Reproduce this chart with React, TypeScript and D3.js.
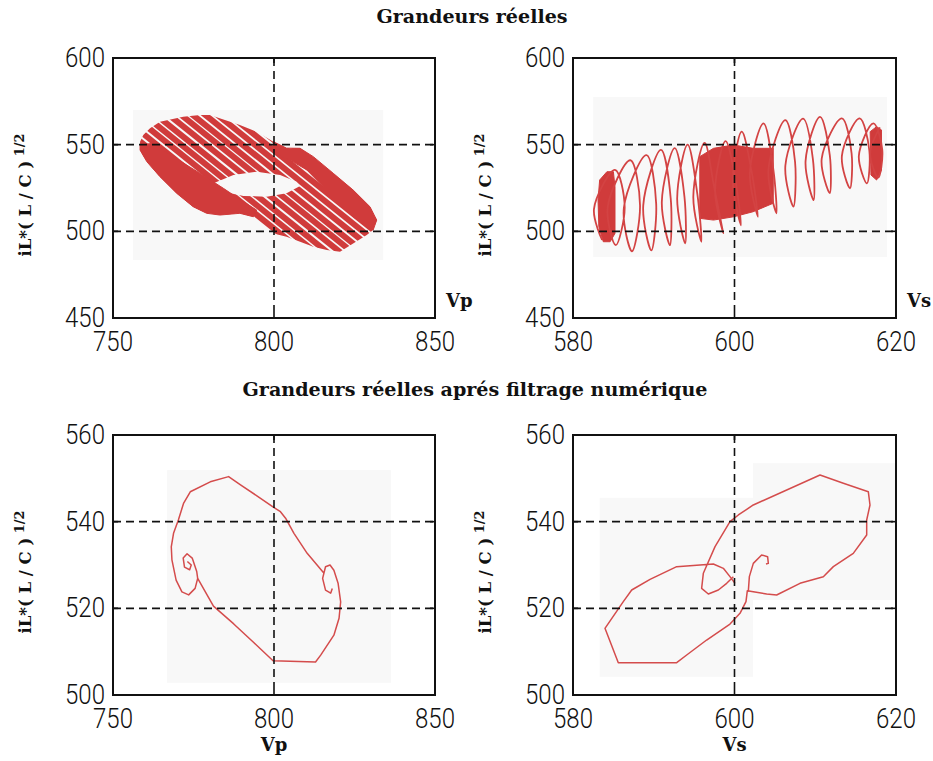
import React from "react";
import * as d3 from "d3";

type Pt = [number, number];

// ---------- tick values ----------
const vpTicks = [750, 800, 850];
const vsTicks = [580, 600, 620];
const ilTicksRaw = [450, 500, 550, 600];
const ilTicksFiltered = [500, 520, 540, 560];

// ---------- raw quantities : Vp versus iL*(L/C)^1/2 ----------
// envelope swept by the successive hysteresis loops
const vpBandOutline: Pt[] = [
  [758.4, 551.7], [759.4, 555.6], [761.5, 559.4], [764.6, 563.2], [771.8, 566.1],
  [777.0, 567.1], [780.1, 567.1], [789.4, 561.3], [794.6, 557.5], [799.8, 551.7],
  [803.9, 548.0], [808.1, 547.9], [812.2, 543.1], [818.4, 533.5], [824.6, 523.8],
  [829.8, 514.2], [831.9, 506.5], [830.8, 500.8], [828.8, 497.9], [820.5, 488.2],
  [816.4, 489.2], [812.2, 491.1], [808.1, 494.0], [803.9, 496.9], [799.8, 498.8],
  [796.7, 503.6], [793.6, 508.4], [789.4, 510.4], [783.2, 509.4], [779.1, 510.4],
  [774.9, 514.2], [769.8, 521.9], [764.6, 531.5], [760.5, 540.2], [758.4, 546.9],
];
// region never visited by the loops
const vpBandHole: Pt[] = [
  [781.2, 527.7], [787.4, 532.5], [794.6, 534.4], [801.9, 532.5], [807.0, 528.6],
  [808.1, 526.1], [803.9, 521.9], [797.7, 520.0], [790.5, 520.4], [784.3, 522.9],
];
// where the loops pile up into a solid area
const vpSolidLower: Pt[] = [
  [758.4, 549.8], [762.5, 550.8], [768.7, 543.1], [777.0, 533.5], [784.3, 524.8],
  [790.5, 517.1], [794.6, 512.3], [793.6, 508.4], [789.4, 510.4], [783.2, 509.4],
  [779.1, 510.4], [774.9, 514.2], [769.8, 521.9], [764.6, 531.5], [760.5, 540.2],
  [758.4, 546.9],
];
const vpSolidUpper: Pt[] = [
  [799.8, 551.7], [803.9, 548.0], [808.1, 547.9], [812.2, 543.1], [818.4, 533.5],
  [824.6, 523.8], [829.8, 514.2], [831.9, 506.5], [830.8, 500.8], [828.8, 502.7],
  [824.6, 508.4], [820.5, 516.2], [815.3, 525.7], [810.2, 535.4], [805.0, 541.1],
  [799.8, 545.0],
];
// axis of each elongated loop: Vp where it crosses iL = 575 and iL = 480
const LOOP_TOP_IL = 575;
const LOOP_BOTTOM_IL = 480;
const vpLoopTopVp = [735.0, 739.2, 742.9, 746.8, 750.7, 754.4, 758.1, 762.1, 765.9, 769.5, 773.4, 777.2, 781.0, 785.0, 788.8];
const vpLoopBottomVp = [798.8, 803.0, 806.7, 810.6, 814.5, 818.2, 821.9, 825.9, 829.7, 833.3, 837.2, 841.0, 844.8, 848.8, 852.6];

// ---------- raw quantities : Vs versus iL*(L/C)^1/2 ----------
// trajectory: trough, left flank, crest, right flank of each turn
const vsCoil: Pt[] = [
  [583.6, 495.0], [582.6, 513.0], [585.2, 535.5], [586.4, 514.0],
  [585.3, 492.0], [584.3, 514.0], [587.1, 541.0], [588.3, 515.0],
  [587.3, 488.5], [586.3, 513.5], [589.1, 544.0], [590.3, 516.0],
  [589.7, 489.0], [588.7, 515.0], [590.9, 547.0], [592.1, 519.0],
  [592.0, 492.0], [591.0, 517.0], [592.6, 548.0], [593.8, 520.0],
  [593.9, 493.0], [592.9, 519.0], [594.2, 550.0], [595.4, 521.5],
  [595.9, 494.0], [594.9, 520.0], [596.3, 551.0], [597.5, 525.0],
  [598.6, 499.0], [597.6, 523.5], [598.9, 552.0], [600.1, 530.0],
  [600.8, 503.5], [599.8, 528.5], [600.9, 557.5], [602.1, 535.0],
  [602.9, 508.4], [601.9, 533.5], [603.6, 562.3], [604.8, 536.0],
  [605.2, 510.4], [604.2, 535.5], [606.3, 564.2], [607.5, 540.0],
  [607.3, 514.2], [606.3, 538.0], [608.5, 565.0], [609.7, 542.0],
  [609.8, 518.0], [608.8, 540.5], [610.6, 566.0], [611.8, 544.0],
  [611.8, 522.0], [610.8, 542.0], [613.3, 565.2], [614.5, 545.0],
  [614.3, 524.8], [613.3, 543.5], [615.5, 565.2], [616.7, 546.5],
  [616.4, 527.7], [615.4, 543.5], [617.2, 562.3], [618.3, 547.0],
  [617.8, 531.0], [616.8, 545.0], [618.0, 560.0],
];
const vsSolidLeft: Pt[] = [
  [583.3, 529.6], [584.2, 534.4], [585.0, 534.4], [585.2, 525.7], [585.2, 498.8],
  [584.6, 494.0], [583.75, 494.0], [583.2, 502.7], [583.1, 518.1],
];
const vsSolidMid: Pt[] = [
  [595.7, 543.1], [597.4, 547.9], [599.9, 549.8], [602.3, 547.9], [604.8, 547.9],
  [604.8, 516.2], [602.3, 511.3], [599.9, 508.4], [597.4, 506.5], [595.7, 507.5],
];
const vsSolidRight: Pt[] = [
  [616.8, 557.5], [617.6, 560.4], [618.2, 558.5], [618.2, 535.4], [617.6, 529.6],
  [616.9, 532.5],
];

// ---------- after digital filtering : Vp ----------
const vpFiltered: Pt[] = [
  [815.4, 528.2], [810.3, 532.7], [806.2, 537.3], [803.6, 540.8], [802.0, 542.3],
  [799.9, 543.3], [794.8, 545.9], [789.6, 548.5], [785.9, 550.4], [780.2, 549.2],
  [774.0, 546.9], [771.9, 544.2], [770.3, 540.4], [768.8, 537.3], [768.1, 534.2],
  [768.3, 531.2], [769.6, 526.5], [771.4, 523.8], [773.5, 523.1], [775.5, 524.6],
  [776.3, 526.9], [781.2, 520.5], [787.5, 516.4], [793.7, 512.1], [799.7, 507.9],
  [812.9, 507.6], [814.5, 509.2], [818.6, 513.8], [820.2, 517.7], [820.7, 521.5],
  [819.9, 525.8], [818.6, 528.8], [817.4, 530.0], [816.0, 529.6], [815.1, 526.9],
  [816.0, 524.2], [817.6, 523.5], [818.1, 524.6],
];
const vpFilteredCurl: Pt[] = [
  [773.1, 530.8], [774.3, 530.0], [773.8, 528.9], [772.2, 529.5], [771.8, 531.6],
  [773.0, 532.6], [774.6, 531.6], [776.0, 528.5], [776.3, 526.9],
];

// ---------- after digital filtering : Vs ----------
const vsFiltered: Pt[] = [
  [600.06, 525.77], [599.44, 527.31], [598.62, 529.23], [597.38, 530.23], [592.84, 529.62],
  [589.54, 526.69], [587.27, 524.23], [586.23, 521.54], [583.96, 515.38], [585.61, 507.46],
  [592.84, 507.46], [594.08, 509.23], [596.55, 512.69], [599.44, 516.38], [600.68, 518.85],
  [601.42, 521.54], [601.59, 524.08], [602.33, 523.85], [603.98, 523.31], [605.22, 523.08],
  [608.11, 525.77], [611.0, 527.31], [612.24, 529.62], [614.71, 532.69], [616.37, 536.92],
  [616.37, 540.38], [616.78, 543.85], [616.57, 546.92], [613.48, 548.85], [610.59, 550.77],
  [602.33, 543.85], [600.48, 541.54], [599.44, 540.0], [597.59, 534.23], [596.14, 528.08],
  [595.93, 524.62], [596.76, 523.31], [598.0, 524.23], [599.03, 525.77], [599.86, 527.31],
];
const vsFilteredCurl: Pt[] = [
  [601.71, 523.85], [601.84, 527.31], [602.33, 530.38], [603.36, 532.31], [604.1, 531.92],
  [604.19, 530.38], [603.9, 530.23],
];

// ---------- layout ----------
type Frame = { l: number; t: number; r: number; b: number };
const FRAME_TL: Frame = { l: 113, t: 58, r: 435, b: 318 };
const FRAME_TR: Frame = { l: 573, t: 58, r: 896, b: 318 };
const FRAME_BL: Frame = { l: 113, t: 435, r: 435, b: 695 };
const FRAME_BR: Frame = { l: 573, t: 435, r: 896, b: 695 };

const RED = "#d03b3b";
const RED_LINE = "#d34343";
const RED_THIN = "#d44c4c";
const INK = "#111";
const HAZE = "#f8f8f8";
const TICK_FONT = "Roboto, 'Liberation Sans', Arial, sans-serif";
const LABEL_FONT = "'DejaVu Serif', 'Liberation Serif', serif";

type Scale = d3.ScaleLinear<number, number>;

type PanelProps = {
  id: string;
  f: Frame;
  xDomain: [number, number];
  yDomain: [number, number];
  xTicks: number[];
  yTicks: number[];
  xLabel: string;
  xLabelBelow: boolean;
  haze: [number, number, number, number][];
  draw: (x: Scale, y: Scale) => React.ReactNode;
};

function Panel({ id, f, xDomain, yDomain, xTicks, yTicks, xLabel, xLabelBelow, haze, draw }: PanelProps) {
  const x = d3.scaleLinear().domain(xDomain).range([f.l, f.r]);
  const y = d3.scaleLinear().domain(yDomain).range([f.b, f.t]);
  const inner = (v: number, d: [number, number]) => v > d[0] && v < d[1];
  const cy = (f.t + f.b) / 2 + 7;
  const labelX = f.l - 82;
  return (
    <g>
      <defs>
        <clipPath id={`frame-${id}`}>
          <rect x={f.l} y={f.t} width={f.r - f.l} height={f.b - f.t} />
        </clipPath>
      </defs>
      <g clipPath={`url(#frame-${id})`}>
        {haze.map(([x0, x1, y0, y1], i) => (
          <rect key={i} x={x(x0)} y={y(y1)} width={x(x1) - x(x0)} height={y(y0) - y(y1)} fill={HAZE} />
        ))}
        {draw(x, y)}
      </g>
      {/* dashed grid */}
      {xTicks.filter((v) => inner(v, xDomain)).map((v) => (
        <line key={`gx${v}`} x1={x(v)} x2={x(v)} y1={f.t} y2={f.b} stroke={INK} strokeWidth={1.6} strokeDasharray="8 5" />
      ))}
      {yTicks.filter((v) => inner(v, yDomain)).map((v) => (
        <line key={`gy${v}`} x1={f.l} x2={f.r} y1={y(v)} y2={y(v)} stroke={INK} strokeWidth={1.6} strokeDasharray="8 5" />
      ))}
      {/* inward ticks */}
      {xTicks.map((v) => (
        <g key={`tx${v}`}>
          <line x1={x(v)} x2={x(v)} y1={f.b} y2={f.b - 5} stroke={INK} strokeWidth={1.6} />
          <line x1={x(v)} x2={x(v)} y1={f.t} y2={f.t + 5} stroke={INK} strokeWidth={1.6} />
        </g>
      ))}
      {yTicks.map((v) => (
        <g key={`ty${v}`}>
          <line x1={f.l} x2={f.l + 5} y1={y(v)} y2={y(v)} stroke={INK} strokeWidth={1.6} />
          <line x1={f.r} x2={f.r - 5} y1={y(v)} y2={y(v)} stroke={INK} strokeWidth={1.6} />
        </g>
      ))}
      <rect x={f.l} y={f.t} width={f.r - f.l} height={f.b - f.t} fill="none" stroke={INK} strokeWidth={2} />
      {/* tick labels */}
      {xTicks.map((v) => (
        <text key={`lx${v}`} x={x(v)} y={f.b + 33} textAnchor="middle" fontFamily={TICK_FONT} fontWeight={300}
          fontSize={27} textLength={40} lengthAdjust="spacingAndGlyphs" fill={INK}>{v}</text>
      ))}
      {yTicks.map((v) => (
        <text key={`ly${v}`} x={f.l - 8} y={y(v) + 9} textAnchor="end" fontFamily={TICK_FONT} fontWeight={300}
          fontSize={27} textLength={40} lengthAdjust="spacingAndGlyphs" fill={INK}>{v}</text>
      ))}
      {/* axis titles */}
      {xLabelBelow ? (
        <text x={(f.l + f.r) / 2} y={f.b + 56} textAnchor="middle" fontFamily={LABEL_FONT} fontWeight="bold" fontSize={18} fill={INK}>{xLabel}</text>
      ) : (
        <text x={f.r + 11} y={f.b - 11} fontFamily={LABEL_FONT} fontWeight="bold" fontSize={18} fill={INK}>{xLabel}</text>
      )}
      <text transform={`translate(${labelX},${cy}) rotate(-90)`} textAnchor="middle" fontFamily={LABEL_FONT} fontWeight="bold" fontSize={16.5} fill={INK}>
        <tspan>iL*( L / C )</tspan>
        <tspan dy={-7} fontSize={13}> 1/2</tspan>
      </text>
    </g>
  );
}

const poly = (x: Scale, y: Scale, pts: Pt[]) => {
  const g = d3.line<Pt>().x((d) => x(d[0])).y((d) => y(d[1]));
  return g(pts) + "Z";
};

export default function App() {
  const straight = (x: Scale, y: Scale) => d3.line<Pt>().x((d) => x(d[0])).y((d) => y(d[1]));
  const smooth = (x: Scale, y: Scale) =>
    d3.line<Pt>().x((d) => x(d[0])).y((d) => y(d[1])).curve(d3.curveCatmullRom.alpha(0.5));

  return (
    <svg width={933} height={761} style={{ position: "absolute", left: 0, top: 0, background: "#fff" }}>
      <rect width={933} height={761} fill="#fff" />
      <text x={472} y={23} textAnchor="middle" fontFamily={LABEL_FONT} fontWeight="bold" fontSize={18}
        textLength={191} lengthAdjust="spacingAndGlyphs" fill={INK}>Grandeurs réelles</text>
      <text x={475} y={396} textAnchor="middle" fontFamily={LABEL_FONT} fontWeight="bold" fontSize={18}
        textLength={465} lengthAdjust="spacingAndGlyphs" fill={INK}>Grandeurs réelles aprés filtrage numérique</text>

      <Panel
        id="tl" f={FRAME_TL} xDomain={[750, 850]} yDomain={[450, 600]}
        xTicks={vpTicks} yTicks={ilTicksRaw} xLabel="Vp" xLabelBelow={false}
        haze={[[756.2, 833.9, 483.4, 570]]}
        draw={(x, y) => (
          <g>
            <defs>
              <clipPath id="vp-band">
                <path d={poly(x, y, vpBandOutline) + poly(x, y, vpBandHole)} clipRule="evenodd" />
              </clipPath>
            </defs>
            <g clipPath="url(#vp-band)">
              {vpLoopTopVp.map((v, i) => (
                <line key={i} x1={x(v)} y1={y(LOOP_TOP_IL)} x2={x(vpLoopBottomVp[i])} y2={y(LOOP_BOTTOM_IL)}
                  stroke={RED} strokeWidth={6} />
              ))}
            </g>
            <path d={poly(x, y, vpSolidLower)} fill={RED} stroke={RED} strokeWidth={1} />
            <path d={poly(x, y, vpSolidUpper)} fill={RED} stroke={RED} strokeWidth={1} />
          </g>
        )}
      />

      <Panel
        id="tr" f={FRAME_TR} xDomain={[580, 620]} yDomain={[450, 600]}
        xTicks={vsTicks} yTicks={ilTicksRaw} xLabel="Vs" xLabelBelow={false}
        haze={[[582.5, 618.9, 485.2, 577.5]]}
        draw={(x, y) => (
          <g>
            <path d={poly(x, y, vsSolidLeft)} fill={RED} stroke={RED} strokeWidth={1} />
            <path d={poly(x, y, vsSolidMid)} fill={RED} stroke={RED} strokeWidth={1} />
            <path d={poly(x, y, vsSolidRight)} fill={RED} stroke={RED} strokeWidth={1} />
            <path d={smooth(x, y)(vsCoil) ?? ""} fill="none" stroke={RED_LINE} strokeWidth={1.8} strokeLinejoin="round" />
          </g>
        )}
      />

      <Panel
        id="bl" f={FRAME_BL} xDomain={[750, 850]} yDomain={[500, 560]}
        xTicks={vpTicks} yTicks={ilTicksFiltered} xLabel="Vp" xLabelBelow={true}
        haze={[[766.8, 836.3, 502.8, 551.9]]}
        draw={(x, y) => (
          <g fill="none" stroke={RED_THIN} strokeWidth={1.5} strokeLinejoin="round">
            <path d={straight(x, y)(vpFiltered) ?? ""} />
            <path d={straight(x, y)(vpFilteredCurl) ?? ""} />
          </g>
        )}
      />

      <Panel
        id="br" f={FRAME_BR} xDomain={[580, 620]} yDomain={[500, 560]}
        xTicks={vsTicks} yTicks={ilTicksFiltered} xLabel="Vs" xLabelBelow={true}
        haze={[[583.3, 602.3, 504.2, 545.5], [602.3, 621, 521.9, 553.5]]}
        draw={(x, y) => (
          <g fill="none" stroke={RED_THIN} strokeWidth={1.5} strokeLinejoin="round">
            <path d={straight(x, y)(vsFiltered) ?? ""} />
            <path d={straight(x, y)(vsFilteredCurl) ?? ""} />
          </g>
        )}
      />
    </svg>
  );
}
